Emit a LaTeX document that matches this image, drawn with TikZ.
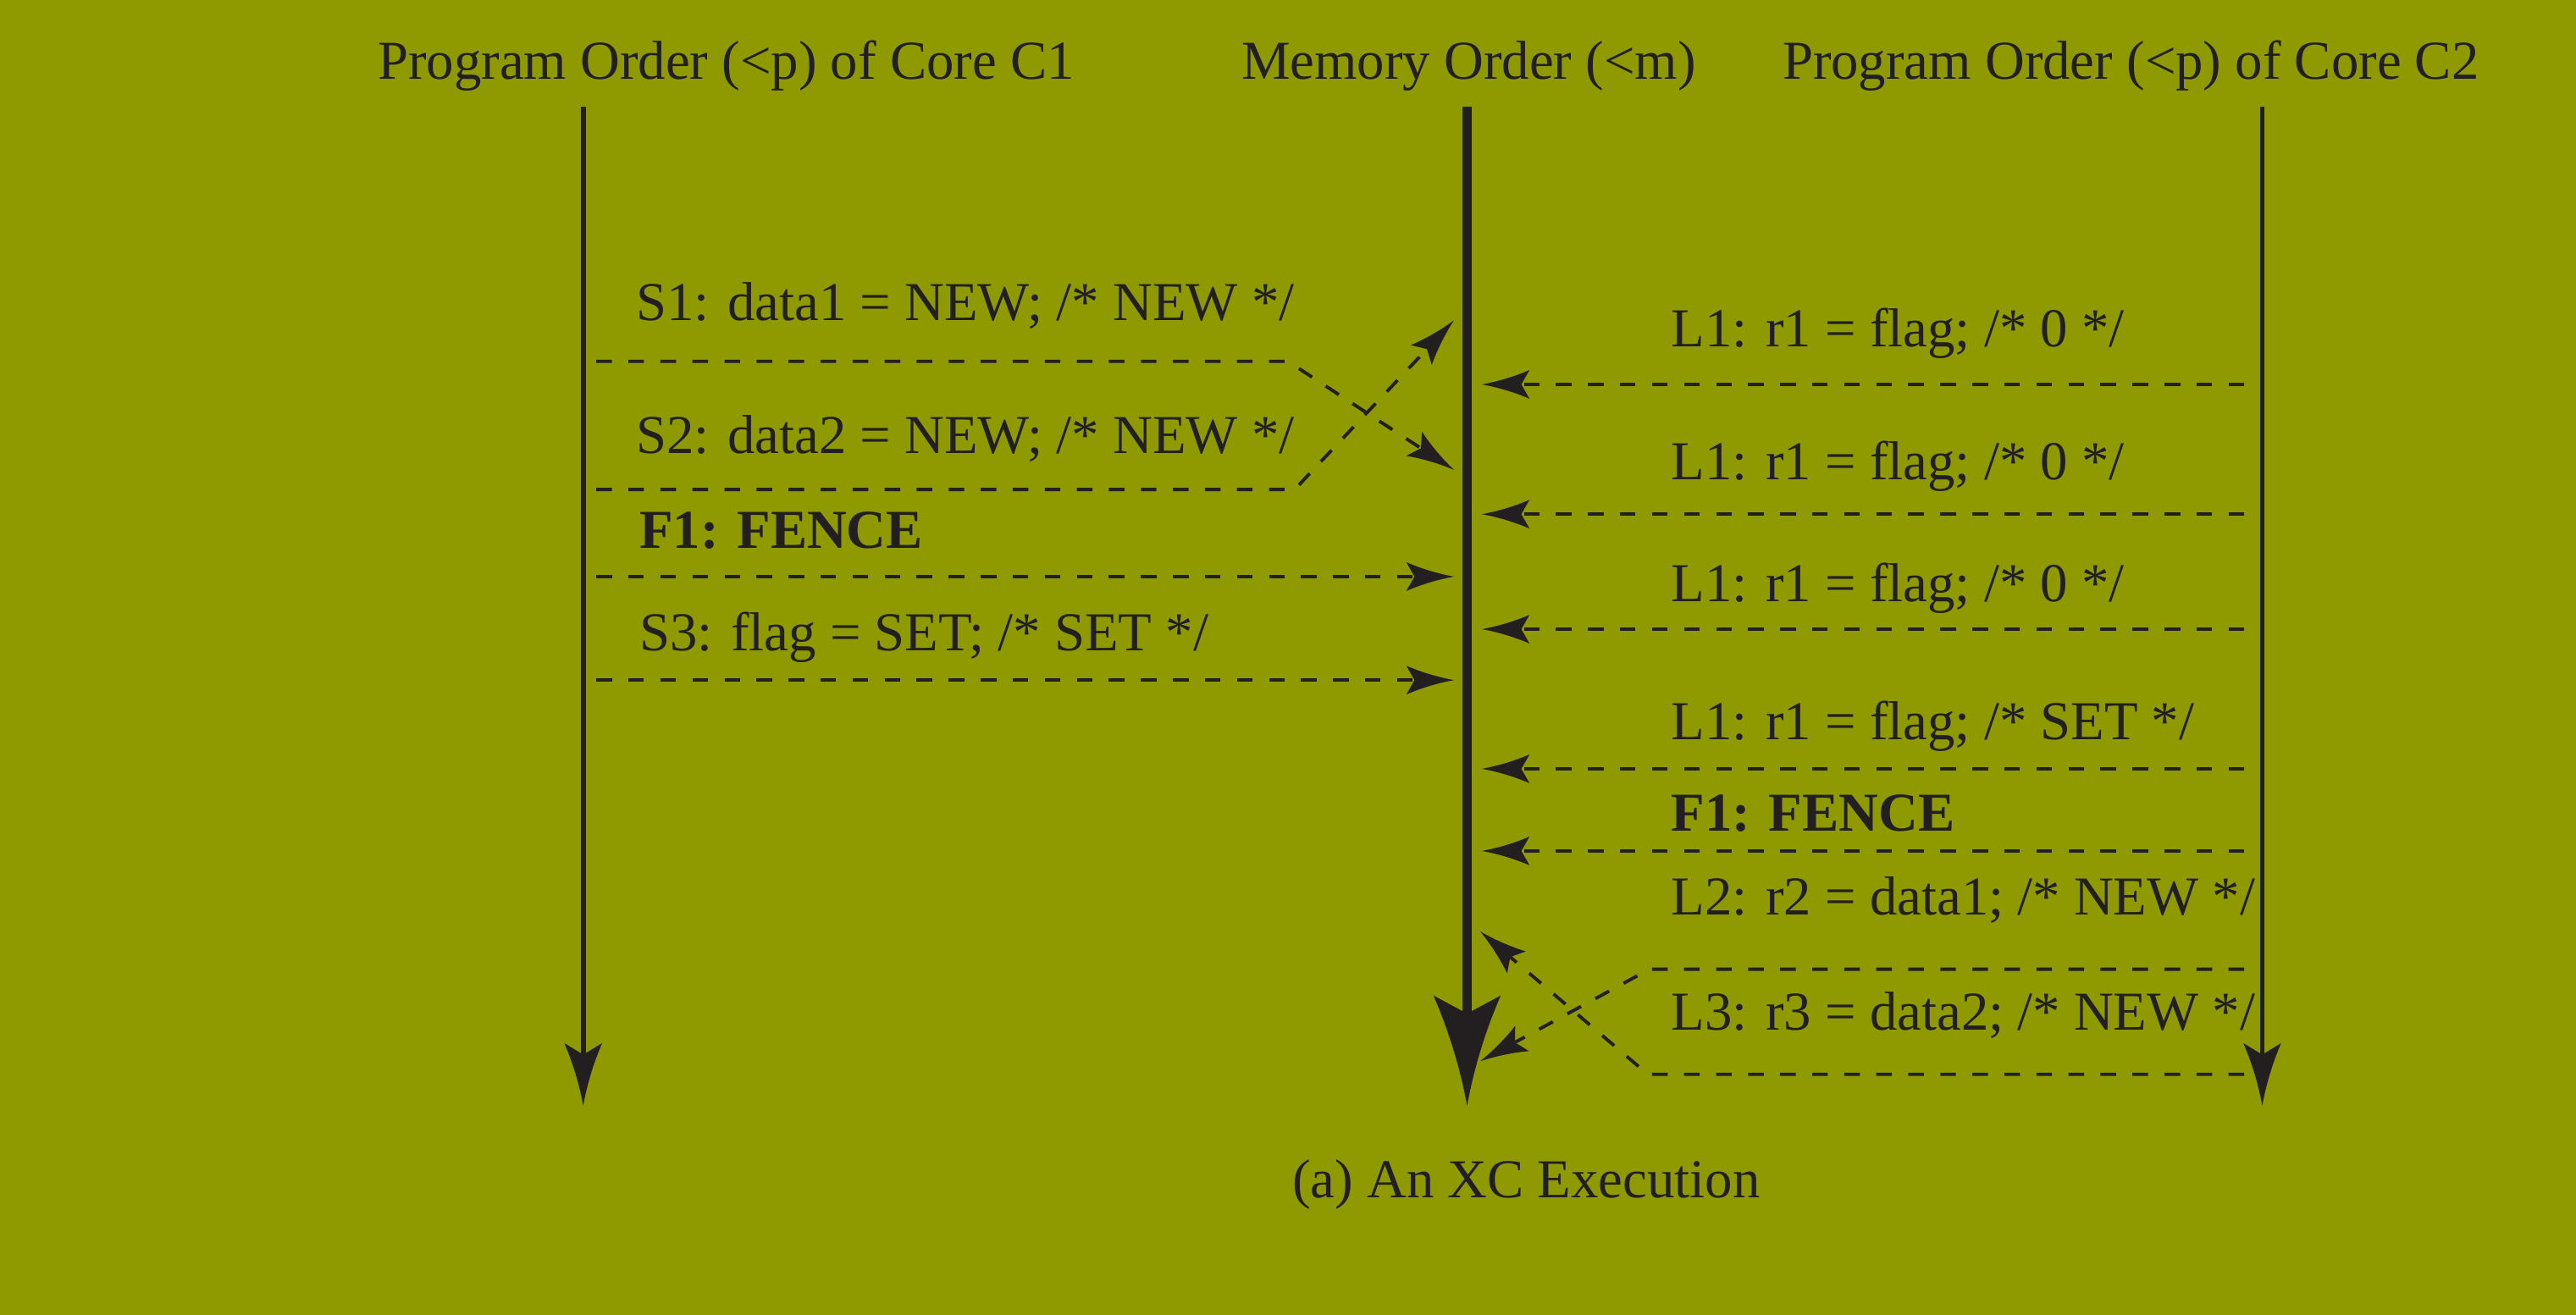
\documentclass[tikz,border=0pt]{standalone}
\usepackage{fontspec}
\setmainfont{Liberation Serif}
\usetikzlibrary{arrows.meta}
\definecolor{bg}{RGB}{143,153,0}
\definecolor{ink}{RGB}{35,31,32}
\pgfdeclarearrow{
  name = Swept,
  defaults = {length = 0.5cm, width = 0.3cm, inset = 0.1cm},
  parameters = {\the\pgfarrowlength,\the\pgfarrowwidth,\the\pgfarrowinset},
  setup code = {
    \pgfarrowssettipend{0pt}
    \pgfarrowssetbackend{-\pgfarrowlength}
    \pgfarrowssetlineend{-0.5\pgfarrowlength}
    \pgfarrowssavethe\pgfarrowlength
    \pgfarrowssavethe\pgfarrowwidth
    \pgfarrowssavethe\pgfarrowinset
  },
  drawing code = {
    \pgfpathmoveto{\pgfqpoint{0pt}{0pt}}
    \pgfpathcurveto{\pgfpoint{-0.4\pgfarrowlength}{0.12\pgfarrowwidth}}{\pgfpoint{-0.75\pgfarrowlength}{0.32\pgfarrowwidth}}{\pgfpoint{-\pgfarrowlength}{0.5\pgfarrowwidth}}
    \pgfpathlineto{\pgfpoint{-\pgfarrowlength+\pgfarrowinset}{0pt}}
    \pgfpathlineto{\pgfpoint{-\pgfarrowlength}{-0.5\pgfarrowwidth}}
    \pgfpathcurveto{\pgfpoint{-0.75\pgfarrowlength}{-0.32\pgfarrowwidth}}{\pgfpoint{-0.4\pgfarrowlength}{-0.12\pgfarrowwidth}}{\pgfqpoint{0pt}{0pt}}
    \pgfpathclose
    \pgfusepathqfill
  }
}
\begin{document}
\begin{tikzpicture}[x=0.02cm,y=-0.02cm,
  lbl/.style={anchor=base west, inner sep=0pt, text=ink, font=\fontsize{19}{22}\selectfont},
  hdr/.style={anchor=base, inner sep=0pt, text=ink, font=\fontsize{19}{22}\selectfont},
  bl/.style={lbl, font=\fontsize{19}{22}\selectfont\bfseries},
  thinaxis/.style={draw=ink, line width=0.06cm, -{Swept[length=0.76cm, width=0.46cm, inset=0.14cm]}},
  memaxis/.style={draw=ink, line width=0.11cm, -{Swept[length=1.34cm, width=0.82cm, inset=0.22cm]}},
  msg/.style={draw=ink, line width=0.04cm, dash pattern=on 0.19cm off 0.2cm, -{Swept[length=0.58cm, width=0.35cm, inset=0.1cm]}}
]
\useasboundingbox (0,0) rectangle (1568,800);
\fill[bg] (-10,-10) rectangle (1578,810);

% headers
\node[hdr] (h1) at (442,48) {Program Order (<p) of Core C1};
\node[hdr] (h2) at (894,48) {Memory Order (<m)};
\node[hdr] (h3) at (1297,48) {Program Order (<p) of Core C2};

% axes
\coordinate (c1top) at (355,65); \coordinate (c1bot) at (355,673);
\coordinate (mtop) at (893,65);  \coordinate (mbot) at (893,673);
\coordinate (c2top) at (1377,65); \coordinate (c2bot) at (1377,673);
\draw[thinaxis] (c1top) -- (c1bot);
\draw[memaxis] (mtop) -- (mbot);
\draw[thinaxis] (c2top) -- (c2bot);

% core C1 labels
\node[lbl] (s1) at (387,195) {S1: data1 = NEW; /* NEW */};
\node[lbl] (s2) at (387,276) {S2: data2 = NEW; /* NEW */};
\node[bl]  (f1) at (389,334) {F1: FENCE};
\node[lbl] (s3) at (389,396) {S3: flag = SET; /* SET */};

% core C1 messages
\coordinate (s1a) at (363,220); \coordinate (s1b) at (784,220); \coordinate (s1c) at (885,286);
\coordinate (s2a) at (363,298); \coordinate (s2b) at (788,298); \coordinate (s2c) at (885,195);
\coordinate (f1a) at (363,351); \coordinate (f1c) at (885,351);
\coordinate (s3a) at (363,414); \coordinate (s3c) at (885,414);
\draw[msg] (s1a) -- (s1b) -- (s1c);
\draw[msg] (s2a) -- (s2b) -- (s2c);
\draw[msg] (f1a) -- (f1c);
\draw[msg] (s3a) -- (s3c);

% core C2 labels
\node[lbl] (l1a) at (1017,211) {L1: r1 = flag; /* 0 */};
\node[lbl] (l1b) at (1017,292) {L1: r1 = flag; /* 0 */};
\node[lbl] (l1c) at (1017,366) {L1: r1 = flag; /* 0 */};
\node[lbl] (l1d) at (1017,450) {L1: r1 = flag; /* SET */};
\node[bl]  (f2)  at (1017,506) {F1: FENCE};
\node[lbl] (l2)  at (1017,557) {L2: r2 = data1; /* NEW */};
\node[lbl] (l3)  at (1017,627) {L3: r3 = data2; /* NEW */};

% core C2 messages
\coordinate (r1a) at (1366,234); \coordinate (r1c) at (902,234);
\coordinate (r2a) at (1366,313); \coordinate (r2c) at (902,313);
\coordinate (r3a) at (1366,383); \coordinate (r3c) at (902,383);
\coordinate (r4a) at (1366,468); \coordinate (r4c) at (902,468);
\coordinate (r5a) at (1366,518); \coordinate (r5c) at (902,518);
\coordinate (r6a) at (1366,590); \coordinate (r6b) at (1004,590); \coordinate (r6c) at (901,646);
\coordinate (r7a) at (1366,654); \coordinate (r7b) at (1003,654); \coordinate (r7c) at (901,567);
\draw[msg] (r1a) -- (r1c);
\draw[msg] (r2a) -- (r2c);
\draw[msg] (r3a) -- (r3c);
\draw[msg] (r4a) -- (r4c);
\draw[msg] (r5a) -- (r5c);
\draw[msg] (r6a) -- (r6b) -- (r6c);
\draw[msg] (r7a) -- (r7b) -- (r7c);

% caption
\node[hdr] (cap) at (929,729) {(a) An XC Execution};
\end{tikzpicture}
\end{document}
